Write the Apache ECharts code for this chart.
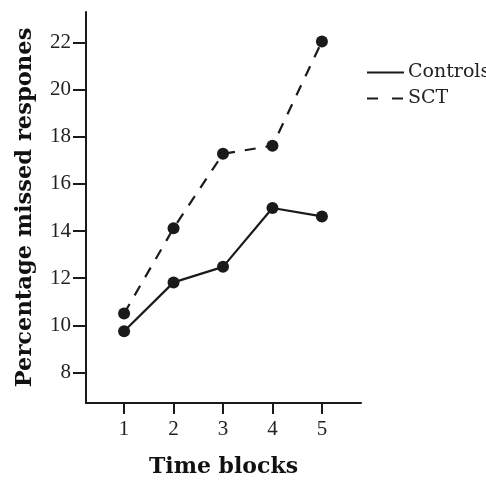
<!DOCTYPE html>
<html>
<head>
<meta charset="utf-8">
<script src="https://cdn.jsdelivr.net/npm/echarts@6/dist/echarts.min.js"></script>
<style>html,body{margin:0;padding:0;background:#fff;}#c{width:486px;height:482px;}</style>
</head>
<body>
<div id="c"></div>
<script>
const timeBlocks = [1, 2, 3, 4, 5];
const controls = [9.75, 11.82, 12.48, 14.98, 14.62];
const sct = [10.5, 14.12, 17.28, 17.62, 22.05];
const xTicks = [1, 2, 3, 4, 5];
const yTicks = [8, 10, 12, 14, 16, 18, 20, 22];
const seriesNames = ['Controls', 'SCT'];

const ink = '#1a1a1a';
const chart = echarts.init(document.getElementById('c'), null, {renderer: 'canvas'});
const tickFont = {fontFamily: 'Liberation Serif', fontSize: 21, color: '#222'};

chart.setOption({
  animation: false,
  backgroundColor: '#fff',
  grid: {left: 86, right: 125, top: 12, bottom: 79, outerBoundsMode: 'none', containLabel: false},
  legend: {
    orient: 'vertical', left: 366, top: 63, padding: 0,
    itemWidth: 37, itemHeight: 20, itemGap: 7,
    itemStyle: {opacity: 0},
    textStyle: {fontFamily: 'DejaVu Serif', fontSize: 19, color: '#222', padding: [0, 0, 0, -1]},
    data: [
      {name: seriesNames[0]},
      {name: seriesNames[1], lineStyle: {type: [11, 14]}}
    ]
  },
  xAxis: {
    type: 'value', min: 0.23, max: 5.79,
    name: 'Time blocks', nameLocation: 'middle', nameGap: 53,
    nameTextStyle: {fontFamily: 'DejaVu Serif', fontWeight: 'bold', fontSize: 22, color: '#111'},
    axisLine: {lineStyle: {color: ink, width: 2}},
    axisTick: {customValues: xTicks, length: 11, lineStyle: {color: ink, width: 2}},
    axisLabel: {customValues: xTicks, margin: 16, ...tickFont},
    splitLine: {show: false}
  },
  yAxis: {
    type: 'value', min: 6.7, max: 23.3,
    name: 'Percentage missed respones', nameLocation: 'middle', nameGap: 49,
    nameTextStyle: {fontFamily: 'DejaVu Serif', fontWeight: 'bold', fontSize: 22.6, color: '#111'},
    axisLine: {show: true, lineStyle: {color: ink, width: 2}},
    axisTick: {show: true, customValues: yTicks, length: 13, lineStyle: {color: ink, width: 2}},
    axisLabel: {customValues: yTicks, margin: 15, ...tickFont},
    splitLine: {show: false}
  },
  series: [
    {
      name: seriesNames[0], type: 'line',
      data: timeBlocks.map((x, i) => [x, controls[i]]),
      symbol: 'circle', symbolSize: 12,
      itemStyle: {color: ink},
      lineStyle: {color: ink, width: 2.2, type: 'solid'}
    },
    {
      name: seriesNames[1], type: 'line',
      data: timeBlocks.map((x, i) => [x, sct[i]]),
      symbol: 'circle', symbolSize: 12,
      itemStyle: {color: ink},
      lineStyle: {color: ink, width: 2.2, type: [11, 10]}
    }
  ]
});
</script>
</body>
</html>
